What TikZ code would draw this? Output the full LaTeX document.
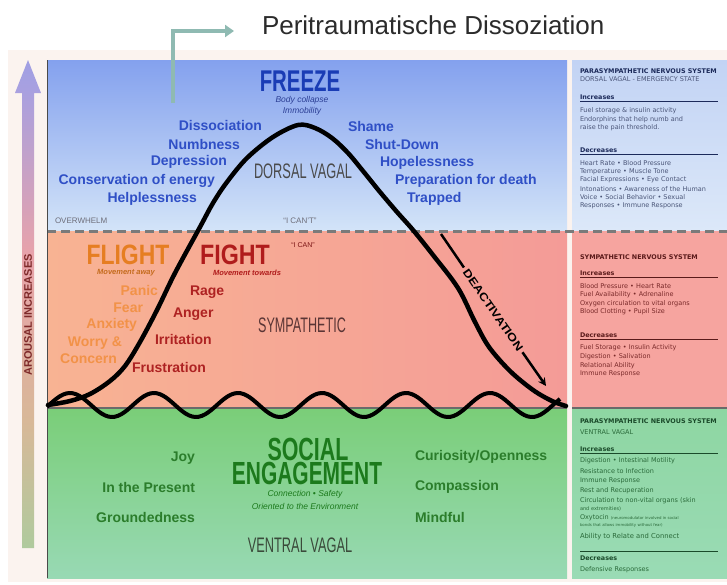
\documentclass[tikz,border=0pt]{standalone}
\usepackage{fontspec}
\usepackage{graphicx}
\setmainfont{Liberation Sans}
\newfontfamily\rpfont{DejaVu Sans}
\usetikzlibrary{arrows.meta}
\newcommand{\sx}[2]{\scalebox{#1}[1]{#2}}
\definecolor{bgpale}{HTML}{FBF3EF}
\definecolor{frzTop}{HTML}{84A1EE}
\definecolor{frzBot}{HTML}{D3E4F8}
\definecolor{symL}{HTML}{F8B393}
\definecolor{symR}{HTML}{F49B97}
\definecolor{venTop}{HTML}{7ACE78}
\definecolor{venBot}{HTML}{98D9B4}
\definecolor{rpBlueTop}{HTML}{C2D3F4}
\definecolor{rpBlueBot}{HTML}{DCE8F9}
\definecolor{rpPink}{HTML}{F6A49F}
\definecolor{rpGreenTop}{HTML}{8ED6A2}
\definecolor{rpGreenBot}{HTML}{9ADBB5}
\definecolor{frzTitle}{HTML}{1A3CB5}
\definecolor{frzItem}{HTML}{2F4FC6}
\definecolor{frzSub}{HTML}{2C3F95}
\definecolor{flightC}{HTML}{E67E22}
\definecolor{flightItem}{HTML}{F29248}
\definecolor{fightC}{HTML}{B01C1C}
\definecolor{fightItem}{HTML}{AE2222}
\definecolor{socC}{HTML}{1C7A1C}
\definecolor{socItem}{HTML}{2B7D2B}
\definecolor{vagalGray}{HTML}{4A4A4A}
\definecolor{symGray}{HTML}{5A3535}
\definecolor{venGray}{HTML}{3A4A3A}
\definecolor{tealA}{HTML}{8FBAB2}
\definecolor{titleC}{HTML}{2B2B2B}
\definecolor{dashGray}{HTML}{7A7A7A}
\definecolor{lineGray}{HTML}{6A6A6A}
\definecolor{smallGray}{HTML}{6E6E7A}
\definecolor{arB}{HTML}{7C9BF0}
\definecolor{arL}{HTML}{A8A0E0}
\definecolor{arP}{HTML}{E8A2AA}
\definecolor{arT}{HTML}{D8B898}
\definecolor{arG}{HTML}{90D8A2}
\definecolor{arG2}{HTML}{B8E6C8}
\definecolor{arText}{HTML}{7E2A2A}
\definecolor{rpHB}{HTML}{1C2A5A}
\definecolor{rpTB}{HTML}{4A5578}
\definecolor{rpHP}{HTML}{5A1A1A}
\definecolor{rpTP}{HTML}{7A2A2A}
\definecolor{rpHG}{HTML}{1A4A2A}
\definecolor{rpTG}{HTML}{2A6A3A}
\pgfdeclareverticalshading{arousal}{100bp}{color(0bp)=(arG2); color(15bp)=(arG); color(38bp)=(arT); color(55bp)=(arP); color(72bp)=(arL); color(88bp)=(arB); color(100bp)=(arB)}
\begin{document}
\begin{tikzpicture}[x=1pt,y=-1pt,
  lbl/.style={inner sep=0pt, outer sep=0pt},
  frzitem/.style={lbl, font=\fontsize{14}{16}\selectfont\bfseries, text=frzItem},
  fltitem/.style={lbl, font=\fontsize{14}{16}\selectfont\bfseries, text=flightItem},
  fgtitem/.style={lbl, font=\fontsize{14}{16}\selectfont\bfseries, text=fightItem},
  socitem/.style={lbl, font=\fontsize{14}{16}\selectfont\bfseries, text=socItem},
  bigtitle/.style={lbl, font=\fontsize{30}{32}\selectfont\bfseries},
  vagal/.style={lbl, font=\fontsize{21}{23}\selectfont},
  subital/.style={lbl, font=\fontsize{8.5}{10}\selectfont\itshape},
  subbi/.style={lbl, font=\fontsize{7.5}{9}\selectfont\bfseries\itshape},
  tiny/.style={lbl, font=\fontsize{8}{10}\selectfont},
  rp/.style={lbl, anchor=west, font=\rpfont\fontsize{6.5}{8}\selectfont},
  rph/.style={lbl, anchor=west, font=\rpfont\fontsize{6.4}{8}\selectfont\bfseries},
  rprule/.style={line width=0.6pt},
  dashline/.style={draw=dashGray, line width=3pt, dash pattern=on 9pt off 5pt},
  curve/.style={line width=4.5pt, line cap=round, line join=round},
  tealarrow/.style={draw=tealA, line width=3.5pt, -{Triangle[length=9pt,width=12pt]}},
]
\useasboundingbox (0,0) rectangle (727,584);
\fill[white] (0,0) rectangle (727,584);
\fill[bgpale] (8,50) rectangle (727,582);

% regions
\shade[top color=frzTop, bottom color=frzBot] (47,60) rectangle (567,231);
\shade[left color=symL, right color=symR] (47,231) rectangle (567,408);
\shade[top color=venTop, bottom color=venBot] (47,408) rectangle (567,578);
\shade[top color=rpBlueTop, bottom color=rpBlueBot] (572,60) rectangle (727,231);
\fill[rpPink] (572,231) rectangle (727,408);
\shade[top color=rpGreenTop, bottom color=rpGreenBot] (572,408) rectangle (727,578);

\draw[dashline] (47,231) -- (727,231);
\draw[lineGray, line width=2.5pt] (47,408) -- (567,408);
\draw[lineGray, line width=2.5pt] (572,408) -- (727,408);
\draw[vagalGray, line width=1pt] (47,60) -- (47,578);

% arousal arrow
\shade[shading=arousal] (22,548) -- (22,93) -- (15,93) -- (28,60) -- (41,93) -- (34,93) -- (34,548) -- cycle;
\node[lbl, rotate=90, font=\fontsize{11}{12}\selectfont\bfseries, text=arText] (arousal) at (28,315) {AROUSAL INCREASES};

% title and teal arrow
\node[lbl, anchor=west, font=\fontsize{26}{30}\selectfont, text=titleC] (title) at (262,25) {Peritraumatische Dissoziation};
\coordinate (tealstart) at (173,103);
\coordinate (tealend) at (234,31);
\draw[tealarrow] (tealstart) |- (tealend);

% wave
\draw[line width=4pt, line join=round] plot[domain=47:560, samples=160] (\x, {405-12*cos(4.285714*(\x-70))});
% bell curve
\draw[curve] plot[smooth, tension=0.55] coordinates {(48,405) (70,401) (90,394) (110,381) (125,366) (140,342) (157,310) (175,273) (200,227) (213,203) (227,182) (247,158) (273,137) (298,125) (315,128) (332,138) (348,153) (363,171) (380,192) (397,212) (413,230) (433,255) (458,288) (475,322) (489,347) (510,371) (533,390) (552,401) (566,406)};

% deactivation
\coordinate (deac1) at (441,234);
\coordinate (deac2) at (546,386);
\node[lbl, inner sep=3pt, rotate=-55.4, font=\fontsize{11}{12}\selectfont\bfseries] (deaclabel) at (493,310) {\sx{1.2}{DEACTIVATION}};
\draw[line width=2.5pt] (deac1) -- (deaclabel);
\draw[line width=2.5pt, -{Stealth[length=8pt,width=8pt]}] (deaclabel) -- (deac2);

% freeze zone
\node[bigtitle, text=frzTitle] (freeze) at (300,81) {\sx{0.68}{FREEZE}};
\node[subital, text=frzSub] (freezesub1) at (302,100) {Body collapse};
\node[subital, text=frzSub] (freezesub2) at (302,111) {Immobility};
\node[frzitem, anchor=east] (f1) at (262,125) {Dissociation};
\node[frzitem, anchor=east] (f2) at (240,144) {Numbness};
\node[frzitem, anchor=east] (f3) at (227,162) {Depression};
\node[frzitem, anchor=east] (f4) at (215,181) {Conservation of energy};
\node[frzitem, anchor=east] (f5) at (197,199) {Helplessness};
\node[frzitem, anchor=west] (g1) at (348,126) {Shame};
\node[frzitem, anchor=west] (g2) at (365,144) {Shut-Down};
\node[frzitem, anchor=west] (g3) at (380,163) {Hopelessness};
\node[frzitem, anchor=west] (g4) at (395,181) {Preparation for death};
\node[frzitem, anchor=west] (g5) at (407,199) {Trapped};
\node[vagal, text=vagalGray] (dorsal) at (303,171) {\sx{0.61}{DORSAL VAGAL}};
\node[tiny, anchor=west, text=smallGray] (overwhelm) at (55,221) {OVERWHELM};
\node[tiny, text=smallGray] (icant) at (300,221) {“I CAN’T”};

% sympathetic zone
\node[bigtitle, font=\fontsize{28}{30}\selectfont\bfseries, text=flightC] (flight) at (128,255) {\sx{0.82}{FLIGHT}};
\node[subbi, text=flightC!85!black] (flightsub) at (126,273) {Movement away};
\node[bigtitle, font=\fontsize{28}{30}\selectfont\bfseries, text=fightC] (fight) at (235,255) {\sx{0.83}{FIGHT}};
\node[subbi, text=fightC] (fightsub) at (247,273) {Movement towards};
\node[lbl, font=\fontsize{7}{8}\selectfont, text=fightC!70!black] (ican) at (303,245) {“I CAN”};
\node[fltitem, anchor=east] (l1) at (158,290) {Panic};
\node[fltitem, anchor=east] (l2) at (143,308) {Fear};
\node[fltitem, anchor=east] (l3) at (137,325) {Anxiety};
\node[fltitem, anchor=east] (l4) at (122,343) {Worry \&};
\node[fltitem, anchor=east] (l5) at (117,359) {Concern};
\node[fgtitem, anchor=west] (r1) at (190,292) {Rage};
\node[fgtitem, anchor=west] (r2) at (173,314) {Anger};
\node[fgtitem, anchor=west] (r3) at (155,339) {Irritation};
\node[fgtitem, anchor=west] (r4) at (132,367) {Frustration};
\node[vagal, text=symGray] (symp) at (302,325) {\sx{0.6}{SYMPATHETIC}};

% ventral zone
\node[bigtitle, font=\fontsize{32}{34}\selectfont\bfseries, text=socC] (social) at (308,449) {\sx{0.67}{SOCIAL}};
\node[bigtitle, font=\fontsize{32}{34}\selectfont\bfseries, text=socC] (engagement) at (307,473) {\sx{0.655}{ENGAGEMENT}};
\node[subital, text=socC] (socsub1) at (305,494) {Connection • Safety};
\node[subital, text=socC] (socsub2) at (305,506) {Oriented to the Environment};
\node[vagal, text=venGray] (ventral) at (300,545) {\sx{0.61}{VENTRAL VAGAL}};
\node[socitem, anchor=east] (s1) at (195,458) {Joy};
\node[socitem, anchor=east] (s2) at (195,487) {In the Present};
\node[socitem, anchor=east] (s3) at (195,517) {Groundedness};
\node[socitem, anchor=west] (t1) at (415,457) {Curiosity/Openness};
\node[socitem, anchor=west] (t2) at (415,487) {Compassion};
\node[socitem, anchor=west] (t3) at (415,517) {Mindful};

% right panel: dorsal
\node[rph, text=rpHB] (ph1) at (580,71) {PARASYMPATHETIC NERVOUS SYSTEM};
\node[rp, text=rpTB] (ph1b) at (580,79.5) {DORSAL VAGAL - EMERGENCY STATE};
\node[rph, text=rpHB] (inc1) at (580,97) {Increases};
\draw[rprule, rpHB] (580,101.5) -- (718,101.5);
\foreach \t [count=\i] in {Fuel storage \& insulin activity, Endorphins that help numb and, raise the pain threshold.}
  \node[rp, text=rpTB] (da\i) at (580,{111+8.6*(\i-1)}) {\t};
\node[rph, text=rpHB] (dec1) at (580,150) {Decreases};
\draw[rprule, rpHB] (580,154.5) -- (718,154.5);
\foreach \t [count=\i] in {Heart Rate • Blood Pressure, Temperature • Muscle Tone, Facial Expressions • Eye Contact, Intonations • Awareness of the Human, Voice • Social Behavior • Sexual, Responses • Immune Response}
  \node[rp, text=rpTB] (db\i) at (580,{163+8.6*(\i-1)}) {\t};

% right panel: sympathetic
\node[rph, text=rpHP] (ph2) at (580,257) {SYMPATHETIC NERVOUS SYSTEM};
\node[rph, text=rpHP] (inc2) at (580,273) {Increases};
\draw[rprule, rpHP] (580,277.5) -- (718,277.5);
\foreach \t [count=\i] in {Blood Pressure • Heart Rate, Fuel Availability • Adrenaline, Oxygen circulation to vital organs, Blood Clotting • Pupil Size}
  \node[rp, text=rpTP] (sa\i) at (580,{286+8.6*(\i-1)}) {\t};
\node[rph, text=rpHP] (dec2) at (580,335) {Decreases};
\draw[rprule, rpHP] (580,339.5) -- (718,339.5);
\foreach \t [count=\i] in {Fuel Storage • Insulin Activity, Digestion • Salivation, Relational Ability, Immune Response}
  \node[rp, text=rpTP] (sb\i) at (580,{348+8.6*(\i-1)}) {\t};

% right panel: ventral
\node[rph, text=rpHG] (ph3) at (580,421) {PARASYMPATHETIC NERVOUS SYSTEM};
\node[rp, text=rpTG] (ph3b) at (580,432) {VENTRAL VAGAL};
\node[rph, text=rpHG] (inc3) at (580,449) {Increases};
\draw[rprule, rpHG] (580,453.5) -- (718,453.5);
\foreach \t [count=\i] in {Digestion • Intestinal Motility, Resistance to Infection, Immune Response, Rest and Recuperation, Circulation to non-vital organs (skin}
  \node[rp, text=rpTG] (va\i) at (580,{461+10*(\i-1)}) {\t};
\node[rp, font=\rpfont\fontsize{5}{6}\selectfont, text=rpTG] (va6) at (580,509) {and extremities)};
\node[rp, text=rpTG] (va7) at (580,518) {Oxytocin \fontsize{3.9}{5}\selectfont(neuromodulator involved in social};
\node[rp, font=\rpfont\fontsize{3.9}{5}\selectfont, text=rpTG] (va8) at (580,525) {bonds that allows immobility without fear)};
\node[rp, font=\rpfont\fontsize{6.8}{8}\selectfont, text=rpTG] (va9) at (580,537) {Ability to Relate and Connect};
\draw[rprule, rpHG] (580,551.5) -- (718,551.5);
\node[rph, text=rpHG] (dec3) at (580,558.5) {Decreases};
\node[rp, text=rpTG] (vb1) at (580,570) {Defensive Responses};
\end{tikzpicture}
\end{document}
